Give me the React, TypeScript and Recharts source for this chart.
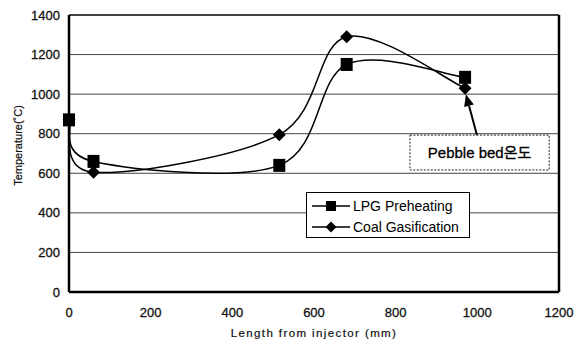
import React from 'react';
import {
  LineChart,
  Line,
  XAxis,
  YAxis,
  CartesianGrid,
  Legend,
  ReferenceLine,
  ReferenceArea,
} from 'recharts';

const xPositions = [0, 60, 515, 680, 970];
const lpgPreheating = [870, 660, 640, 1150, 1085];
const coalGasification = [870, 605, 795, 1290, 1030];
const yTicks = [0, 200, 400, 600, 800, 1000, 1200, 1400];
const xTicks = [0, 200, 400, 600, 800, 1000, 1200];
const seriesNames = ['LPG Preheating', 'Coal Gasification'];
const annotationText = 'Pebble bed온도';

const data = xPositions.map((x, i) => ({
  x,
  lpg: lpgPreheating[i],
  coal: coalGasification[i],
}));

const FONT = '"Liberation Sans", Arial, "Noto Sans CJK KR", sans-serif';

// Excel-like smoothed line (Catmull-Rom as cubic Bezier)
const excelSmooth = (context: any) => {
  let pts: number[][] = [];
  return {
    areaStart() {},
    areaEnd() {},
    lineStart() {
      pts = [];
    },
    point(x: number, y: number) {
      pts.push([+x, +y]);
    },
    lineEnd() {
      const n = pts.length;
      if (!n) return;
      context.moveTo(pts[0][0], pts[0][1]);
      const t = 1 / 6;
      for (let i = 0; i < n - 1; i++) {
        const p0 = pts[Math.max(0, i - 1)];
        const p1 = pts[i];
        const p2 = pts[i + 1];
        const p3 = pts[Math.min(n - 1, i + 2)];
        context.bezierCurveTo(
          p1[0] + (p2[0] - p0[0]) * t,
          p1[1] + (p2[1] - p0[1]) * t,
          p2[0] - (p3[0] - p1[0]) * t,
          p2[1] - (p3[1] - p1[1]) * t,
          p2[0],
          p2[1]
        );
      }
    },
  };
};

const SquareDot = (props: any) => {
  const { cx, cy } = props;
  if (cx == null || cy == null) return null;
  return <rect x={cx - 6} y={cy - 6.5} width={12} height={13} fill="#000" />;
};

const DiamondDot = (props: any) => {
  const { cx, cy } = props;
  if (cx == null || cy == null) return null;
  const r = 6.5;
  return (
    <polygon
      points={`${cx},${cy - r} ${cx + r},${cy} ${cx},${cy + r} ${cx - r},${cy}`}
      fill="#000"
    />
  );
};

const LegendContent = () => (
  <div
    style={{
      border: '1px solid #000',
      background: '#fff',
      boxSizing: 'border-box',
      width: 164,
      height: 46,
      fontFamily: FONT,
      fontSize: 14,
      color: '#000',
      paddingTop: 2,
    }}
  >
    {seriesNames.map((name, i) => (
      <div key={name} style={{ display: 'flex', alignItems: 'center', height: 21, whiteSpace: 'nowrap' }}>
        <svg width={44} height={14} style={{ marginLeft: 4, marginRight: 1 }}>
          <line x1={1} y1={7} x2={39} y2={7} stroke="#000" strokeWidth={1.5} />
          {i === 0 ? (
            <rect x={15} y={2} width={10} height={10} fill="#000" />
          ) : (
            <polygon points="20,1.5 25.5,7 20,12.5 14.5,7" fill="#000" />
          )}
        </svg>
        <span style={{ marginLeft: -3 }}>{name}</span>
      </div>
    ))}
  </div>
);

const ArrowShape = (p: any) => {
  const { x1, y1, x2, y2 } = p;
  if ([x1, y1, x2, y2].some((v) => v == null || isNaN(v))) return <g />;
  const tipFirst = y1 < y2;
  const tx = tipFirst ? x1 : x2;
  const ty = tipFirst ? y1 : y2;
  const sx = tipFirst ? x2 : x1;
  const sy = tipFirst ? y2 : y1;
  const dx = tx - sx;
  const dy = ty - sy;
  const len = Math.sqrt(dx * dx + dy * dy);
  const ux = dx / len;
  const uy = dy / len;
  const headLen = 12;
  const headW = 5;
  const bx = tx - ux * headLen;
  const by = ty - uy * headLen;
  const px = -uy;
  const py = ux;
  return (
    <g>
      <line x1={sx} y1={sy} x2={bx} y2={by} stroke="#000" strokeWidth={2} />
      <polygon
        points={`${tx},${ty} ${bx + px * headW},${by + py * headW} ${bx - px * headW},${by - py * headW}`}
        fill="#000"
      />
    </g>
  );
};

const tickStyle = { fontSize: 13, fill: '#111', fontFamily: FONT, stroke: '#111', strokeWidth: 0.3 };

export default function App() {
  return (
    <div style={{ position: 'absolute', left: 0, top: 0, background: '#fff' }}>
      <LineChart
        width={575}
        height={342}
        data={data}
        margin={{ top: 15, right: 16, left: 0, bottom: 0 }}
        style={{ fontFamily: FONT }}
      >
        <CartesianGrid vertical={false} stroke="#444" strokeWidth={1} />
        <XAxis
          type="number"
          dataKey="x"
          domain={[0, 1200]}
          ticks={xTicks}
          height={50}
          tickLine={false}
          tickSize={0}
          tickMargin={16}
          axisLine={{ stroke: '#000', strokeWidth: 2.5 }}
          tick={tickStyle}
          interval={0}
          label={{
            content: (props: any) => {
              const vb = props.viewBox || {};
              return (
                <text
                  x={vb.x + vb.width / 2}
                  y={vb.y + 45}
                  textAnchor="middle"
                  fontSize={11.5}
                  letterSpacing={1.4}
                  fill="#111"
                  stroke="#111"
                  strokeWidth={0.2}
                  fontFamily={FONT}
                >
                  Length from injector (mm)
                </text>
              );
            },
          }}
        />
        <YAxis
          type="number"
          domain={[0, 1400]}
          ticks={yTicks}
          width={69}
          tickLine={false}
          tickSize={0}
          tickMargin={9}
          axisLine={{ stroke: '#000', strokeWidth: 2.5 }}
          tick={tickStyle}
          interval={0}
          label={{
            content: (props: any) => {
              const vb = props.viewBox || {};
              const cx = vb.x + 18;
              const cy = vb.y + vb.height / 2 - 8;
              return (
                <text
                  x={cx}
                  y={cy}
                  textAnchor="middle"
                  dominantBaseline="central"
                  fontSize={11}
                  fill="#111"
                  stroke="#111"
                  strokeWidth={0.2}
                  fontFamily={FONT}
                  transform={`rotate(-90, ${cx}, ${cy})`}
                >
                  Temperature(˚C)
                </text>
              );
            },
          }}
        />
        <ReferenceLine x={1200} stroke="#000" strokeWidth={2.5} />
        <ReferenceLine y={1400} stroke="#222" strokeWidth={1.5} />
        <ReferenceArea
          x1={835}
          x2={1176}
          y1={617}
          y2={793}
          fill="#fff"
          fillOpacity={1}
          stroke="#222"
          strokeDasharray="2 1.5"
          label={{
            value: annotationText,
            position: 'center',
            fontSize: 15,
            fill: '#000',
            stroke: '#000',
            strokeWidth: 0.3,
            fontFamily: FONT,
          }}
        />
        <ReferenceLine
          segment={[
            { x: 999, y: 793 },
            { x: 972, y: 1000 },
          ]}
          shape={ArrowShape}
        />
        <Legend
          layout="horizontal"
          verticalAlign="middle"
          align="center"
          content={<LegendContent />}
          wrapperStyle={{ left: 306, top: 192, width: 164, height: 46 }}
        />
        <Line
          type={excelSmooth as any}
          dataKey="coal"
          name={seriesNames[1]}
          stroke="#000"
          strokeWidth={1.5}
          dot={<DiamondDot />}
          activeDot={false}
          isAnimationActive={false}
        />
        <Line
          type={excelSmooth as any}
          dataKey="lpg"
          name={seriesNames[0]}
          stroke="#000"
          strokeWidth={1.5}
          dot={<SquareDot />}
          activeDot={false}
          isAnimationActive={false}
        />
      </LineChart>
    </div>
  );
}
